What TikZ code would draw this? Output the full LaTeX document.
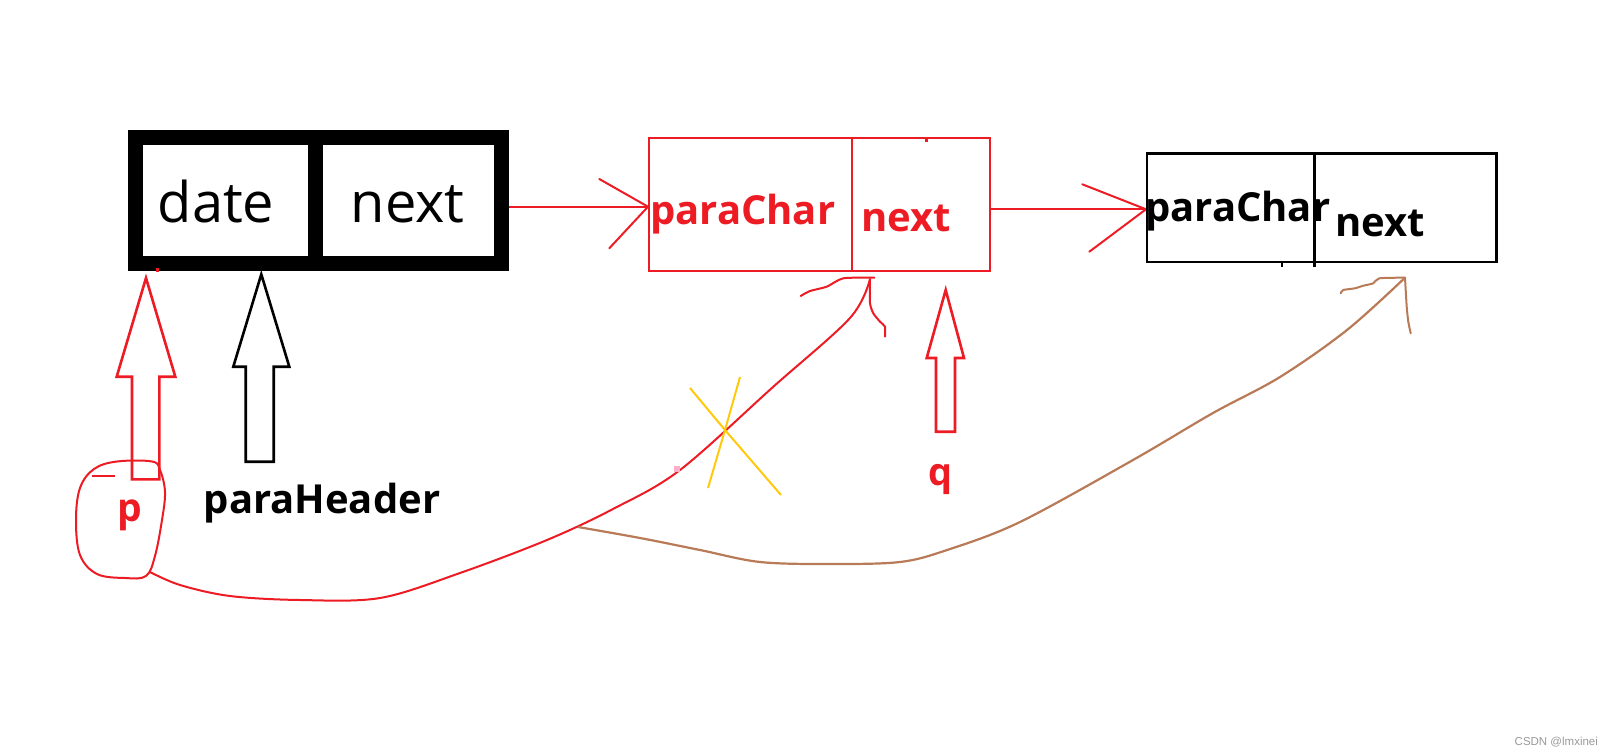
\documentclass[tikz,border=0pt]{standalone}
\usepackage{fontspec}
\setmainfont{Open Sans}
\newfontfamily\wmfont{Liberation Sans}
\definecolor{pred}{HTML}{ED1C24}
\definecolor{pbrown}{HTML}{B97A57}
\definecolor{pyellow}{HTML}{FFC90E}
\definecolor{ppink}{HTML}{FFAEC9}
\tikzset{
  bigtext/.style={anchor=base west, inner sep=0pt, font=\fontsize{56}{66}\selectfont},
  boldtext/.style={anchor=base west, inner sep=0pt, font=\fontsize{40}{48}\selectfont\bfseries},
  redline/.style={draw=pred, line width=2pt},
  brownline/.style={draw=pbrown, line width=2.2pt},
  barb/.style={line width=2pt, line join=round, line cap=round},
  blockarrow/.style={line width=2.6pt, line join=miter, fill=white},
  cellbox/.style={draw, inner sep=0pt, outer sep=0pt},
}
\begin{document}
\begin{tikzpicture}[x=1pt,y=-1pt]
\useasboundingbox[fill=white] (0,0) rectangle (1617,754);

% ---- connectors between boxes (drawn first) ----
\coordinate (a1s) at (505,206.7);
\coordinate (a1t) at (648,206.7);
\draw[redline] (a1s) -- (a1t);
\draw[redline, barb] (599.3,179) -- (a1t) -- (609.3,248.3);

\coordinate (a2s) at (990,209.3);
\coordinate (a2t) at (1146,209.3);
\draw[redline] (a2s) -- (a2t);
\draw[redline, barb] (1082.3,184.3) -- (a2t) -- (1089.3,251.7);

% ---- box 1 (thick black) ----
\node[cellbox, line width=15pt, minimum width=366pt, minimum height=126pt] (b1) at (318.5,200.5) {};
\draw[line width=15pt] (315.5,137.5) -- (315.5,263.5);
\node[bigtext] (tdate) at (157.5,222.7) {date};
\node[bigtext] (tnext1) at (350.5,222.7) {next};

% ---- box 2 (red) ----
\node[cellbox, draw=pred, line width=2.2pt, minimum width=340.7pt, minimum height=133pt] (b2) at (819.35,204.8) {};
\draw[draw=pred, line width=2.2pt] (852.3,138.3) -- (852.3,271.3);
\node[boldtext, text=pred] (tchar2) at (650,225) {paraChar};
\node[boldtext, text=pred] (tnext2) at (861,231.7) {next};
\fill[pred] (925,138.5) rectangle (928,142);

% ---- box 3 (black) ----
\node[cellbox, line width=2.7pt, minimum width=349.5pt, minimum height=108.5pt] (b3) at (1321.75,207.75) {};
\draw[line width=2.7pt] (1314.5,153.5) -- (1314.5,267);
\draw[line width=2.5pt] (1282,262) -- (1282,267);
\node[boldtext] (tchar3) at (1145,221.7) {paraChar};
\node[boldtext] (tnext3) at (1335,236.7) {next};

% ---- block arrows ----
\draw[blockarrow, draw=pred] (146,278) -- (175.3,376.7) -- (159.3,376.7) -- (159.3,479.3) -- (132,479.3) -- (132,376.7) -- (116.7,376.7) -- cycle;
\fill[pred] (156,268) rectangle (158.5,272);
\draw[blockarrow, draw=black] (261.3,274.3) -- (289.3,366.7) -- (273.7,366.7) -- (273.7,461.7) -- (245.7,461.7) -- (245.7,366.7) -- (233.3,366.7) -- cycle;
\draw[blockarrow, draw=pred] (945.7,290) -- (964,358) -- (955,358) -- (955,431.7) -- (936,431.7) -- (936,358) -- (926.7,358) -- cycle;

% ---- labels ----
\node[boldtext] (tph) at (203.5,513.3) {paraHeader};
\node[boldtext, text=pred, font=\fontsize{39}{46}\selectfont\bfseries] (tp) at (117,521.7) {p};
\node[boldtext, text=pred, font=\fontsize{38}{46}\selectfont\bfseries] (tq) at (928,485) {q};

% ---- hand-drawn circle around p ----
\draw[redline, line join=round] plot[smooth cycle, tension=0.6] coordinates {
 (152,461.5) (117,461.5) (94,469) (80,488) (76,520) (80,555)
 (97,574) (125,578) (146,576) (155,556) (162,520) (165,492) (160,470)};
\draw[redline] (91.7,476) -- (115,476);

% ---- red curve from p to box 2 ----
\coordinate (rcs) at (150,572);
\coordinate (rct) at (870,279);
\draw[redline, line join=round] plot[smooth, tension=0.55] coordinates {
 (rcs) (180,585) (230,596) (300,600) (380,598) (460,573) (547,540)
 (613,509) (680,470) (773,387) (850,318) (rct)};
\draw[redline, barb] plot[smooth, tension=0.4] coordinates {
 (800.7,296) (810,291) (826.7,286.7) (843.3,278.3) (874.3,277.7)};
\draw[redline, barb] plot[smooth, tension=0.4] coordinates {
 (rct) (870,303) (873.3,313.3) (880,321.7) (885,326.7) (885,336.7)};
\fill[ppink] (674,465.5) rectangle (680,471.5);

% ---- yellow cross ----
\coordinate (xc) at (725,430);
\draw[draw=pyellow, line width=2pt] (690,388) -- (xc) -- (781,495);
\draw[draw=pyellow, line width=2pt] (740,377) -- (xc) -- (708,488);

% ---- brown curve to box 3 ----
\coordinate (bcs) at (578,527);
\coordinate (bct) at (1405,277.7);
\draw[brownline, line join=round] plot[smooth, tension=0.55] coordinates {
 (bcs) (640,538) (700,550) (760,562) (830,564) (900,562)
 (947,550) (1020,522) (1133,460) (1213,413) (1280,377) (1347,330) (bct)};
\draw[brownline, barb] plot[smooth, tension=0.4] coordinates {
 (1340.7,293.3) (1343.3,290) (1355,288.3) (1363.3,285.7) (1373.3,283.3) (1379.3,278.3) (bct)};
\draw[brownline, barb] plot[smooth, tension=0.4] coordinates {
 (bct) (1406.7,306.7) (1408.3,321.7) (1410.7,333.3)};

% ---- watermark ----
\node[anchor=base west, inner sep=0pt, text=black!40, font=\wmfont\fontsize{11.5}{13}\selectfont] (wm) at (1514.5,745) {CSDN @lmxinei};
\end{tikzpicture}
\end{document}
